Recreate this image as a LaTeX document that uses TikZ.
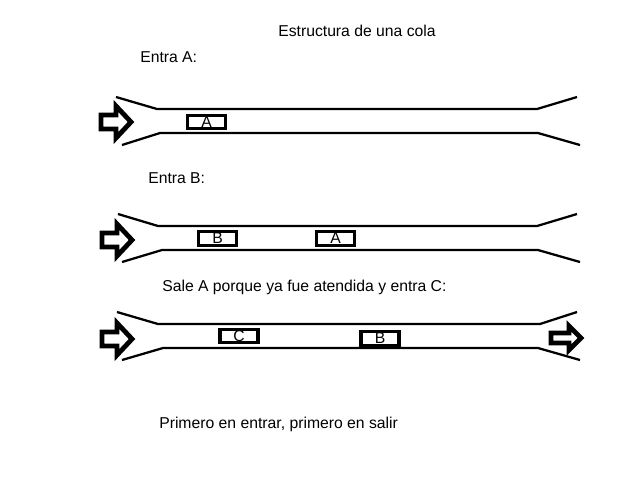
\documentclass[tikz,border=0pt]{standalone}
\usepackage{fontspec}
\setmainfont{Liberation Sans}
\begin{document}
\begin{tikzpicture}[x=0.75pt,y=-0.75pt,
  lbl/.style={font=\fontsize{11.8}{14}\selectfont, inner sep=0pt, anchor=west},
  item/.style={draw, line width=2.6pt, minimum width=38*0.75pt, minimum height=13.5*0.75pt, inner sep=0pt, font=\fontsize{11.8}{14}\selectfont},
  pipe/.style={line width=1.7pt},
  blk/.style={line width=3.6pt, line join=miter}]
\useasboundingbox (0,0) rectangle (640,480);
\tikzset{inarrow/.pic={\draw[blk] (-15,-7) -- (0,-7) -- (0,-16) -- (15,0) -- (0,16) -- (0,7) -- (-15,7) -- cycle;}}
\tikzset{outarrow/.pic={\draw[blk] (-15,-5) -- (3,-5) -- (3,-12) -- (15,0) -- (3,12) -- (3,5) -- (-15,5) -- cycle;}}

\node[font=\fontsize{11.8}{14}\selectfont] (title) at (357,31) {Estructura de una cola};
\node[lbl] (t1) at (140,57) {Entra A:};
\node[lbl] (t2) at (148,178) {Entra B:};
\node[lbl] (t3) at (162,287) {Sale A porque ya fue atendida y entra C:};
\node[lbl] (t4) at (159,424) {Primero en entrar, primero en salir};

% row 1
\draw[pipe] (116,97) -- (157,109) -- (537,109) -- (577,97);
\draw[pipe] (122,145) -- (160,133) -- (538,133) -- (580,145);
\pic at (116,122) {inarrow};
\node[item] (a1) at (206.5,122) {A};

% row 2
\draw[pipe] (118,214) -- (158,226) -- (537,226) -- (577,214);
\draw[pipe] (122,262) -- (162,250) -- (538,250) -- (580,262);
\pic at (117,240) {inarrow};
\node[item] (b2) at (217.5,238.5) {B};
\node[item] (a2) at (335.5,238.5) {A};

% row 3
\draw[pipe] (117,312) -- (158,324) -- (540,324) -- (577,312);
\draw[pipe] (122,360) -- (163,348) -- (538,348) -- (580,360);
\pic at (117,339) {inarrow};
\pic at (566,338) {outarrow};
\node[item] (c3) at (239,336) {C};
\node[item] (b3) at (380,338.5) {B};
\end{tikzpicture}
\end{document}
